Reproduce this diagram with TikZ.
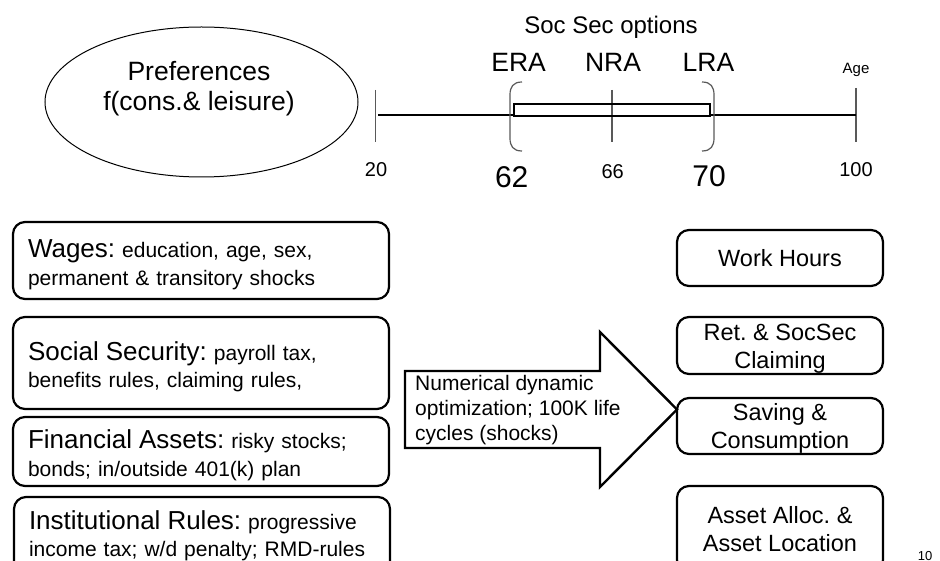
\documentclass[tikz,border=0pt]{standalone}
\usepackage{fontspec}
\setmainfont{Liberation Sans}
\usetikzlibrary{shapes.geometric, positioning}
\frenchspacing

\newcommand{\bigtxt}{\fontsize{26}{27}\selectfont}
\newcommand{\tallstrut}[1]{\rule{0pt}{#1}}

\begin{document}
\begin{tikzpicture}[x=1pt, y=-1pt,
	inbox/.style={draw, line width=2.2pt, rounded corners=12pt, minimum width=376pt, text width=346pt, align=left, inner sep=0pt, font=\fontsize{21}{27.5}\selectfont},
	outbox/.style={draw, line width=2.2pt, rounded corners=12pt, minimum width=206pt, align=center, inner sep=0pt, font=\fontsize{23.5}{28}\selectfont},
	agetick/.style={line width=1.2pt, black!65},
	bracket/.style={line width=1.2pt, black!65},
	agelbl/.style={anchor=base, inner sep=0pt, font=\fontsize{20}{20}\selectfont},
	biglbl/.style={anchor=base, inner sep=0pt, font=\fontsize{30}{30}\selectfont},
	optlbl/.style={anchor=base, inner sep=0pt, font=\fontsize{26.5}{27}\selectfont}]
	\useasboundingbox (0,0) rectangle (940,561);

	% preferences
	\node (pref) [draw, ellipse, line width=1pt, minimum width=313pt, minimum height=150pt, inner sep=0pt] at (201.5,102) {};
	\node (preftxt) [align=center, inner sep=0pt, font=\fontsize{26.5}{30}\selectfont] at (199,89) {Preferences\\ f(cons.\& leisure)};

	% age line with Soc Sec options
	\draw [agetick] (375.7,90) -- (375.7,142);
	\draw [agetick] (612,90) -- (612,142);
	\draw [agetick] (856,88) -- (856,142);
	\draw [line width=2.8pt] (378,115) -- (514,115);
	\draw [line width=2.8pt] (710,115) -- (856,115);
	\draw [line width=1.2pt] (514,104) rectangle (710,116);
	\draw [bracket] (522,82) .. controls (513,82) and (510,87) .. (510,95) -- (510,138) .. controls (510,146) and (513,151) .. (522,151);
	\draw [bracket] (702,82) .. controls (711,82) and (714,87) .. (714,95) -- (714,138) .. controls (714,146) and (711,151) .. (702,151);

	\node (socopt) [anchor=base, inner sep=0pt, font=\fontsize{24}{24}\selectfont] at (611,33.5) {Soc Sec options};
	\node (era) [optlbl] at (518.6,72) {ERA};
	\node (nra) [optlbl] at (613,72) {NRA};
	\node (lra) [optlbl] at (708.5,72) {LRA};
	\node (age) [anchor=base, inner sep=0pt, font=\fontsize{15}{15}\selectfont] at (856,74) {Age};
	\node (a20) [agelbl] at (376,177) {20};
	\node (a62) [biglbl] at (511.7,188) {62};
	\node (a66) [agelbl] at (612.7,178.5) {66};
	\node (a70) [biglbl] at (709,187) {70};
	\node (a100) [agelbl] at (856,177) {100};

	% model inputs
	\node (wages) [inbox, minimum height=77pt] at (201,260.5) {\tallstrut{26pt}{\bigtxt Wages:} education, age, sex,\\ permanent \& transitory shocks};
	\node (socsec) [inbox, minimum height=92pt] at (201,363) {\tallstrut{26pt}{\bigtxt Social Security:} payroll tax,\\ benefits rules, claiming rules,};
	\node (finassets) [inbox, minimum height=69pt] at (201,451.5) {\tallstrut{26pt}{\bigtxt Financial Assets:} risky stocks;\\ bonds; in/outside 401(k) plan};
	\node (instrules) [inbox, minimum height=78pt] at (202,536) {{\bigtxt Institutional Rules:} progressive\\ income tax; w/d penalty; RMD-rules};

	% block arrow
	\draw [line width=2.4pt, line join=miter] (405,371) -- (600,371) -- (600,332) -- (677,409.5) -- (600,487) -- (600,448) -- (405,448) -- cycle;
	\node (numopt) [anchor=west, align=left, inner sep=0pt, font=\fontsize{21}{25}\selectfont] at (415,410) {Numerical dynamic\\ optimization; 100K life\\ cycles (shocks)};

	% model outputs
	\node (hours) [outbox, minimum height=56pt] at (780,258) {Work Hours};
	\node (claim) [outbox, minimum height=57pt] at (780,345.5) {\tallstrut{23pt}Ret. \& SocSec\\ Claiming};
	\node (saving) [outbox, minimum height=56pt] at (780,426) {\tallstrut{22pt}Saving \&\\ Consumption};
	\node (alloc) [outbox, minimum height=86pt] at (780,529) {Asset Alloc. \&\\ Asset Location};

	\node (pagenum) [anchor=base, inner sep=0pt, font=\fontsize{13}{13}\selectfont] at (925,560) {10};
\end{tikzpicture}
\end{document}
